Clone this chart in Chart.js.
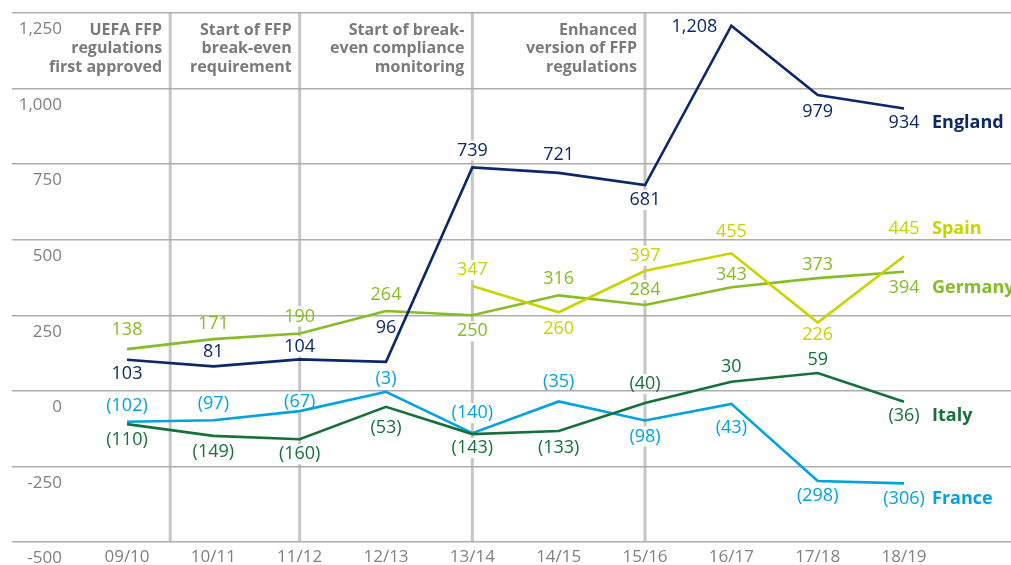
<!DOCTYPE html>
<html>
<head>
<meta charset="utf-8">
<script src="https://cdn.jsdelivr.net/npm/chart.js@4.4.0/dist/chart.umd.min.js"></script>
<style>
  html, body { margin: 0; padding: 0; background: #fff; }
  #wrap { width: 1011px; height: 565px; position: relative; }
</style>
</head>
<body>
<div id="wrap"><canvas id="ffpChart"></canvas></div>
<script>
// Datos del gráfico
var seasons = ["09/10", "10/11", "11/12", "12/13", "13/14", "14/15", "15/16", "16/17", "17/18", "18/19"];
var england = [103, 81, 104, 96, 739, 721, 681, 1208, 979, 934];
var spain = [null, null, null, null, 347, 260, 397, 455, 226, 445];
var germany = [138, 171, 190, 264, 250, 316, 284, 343, 373, 394];
var italy = [-110, -149, -160, -53, -143, -133, -40, 30, 59, -36];
var france = [-102, -97, -67, -3, -140, -35, -98, -43, -298, -306];
var yTicks = [-500, -250, 0, 250, 500, 750, 1000, 1250];

// Hitos de la normativa FFP (posicion en el eje de temporadas)
var milestoneAt = [0.5, 2, 4, 6];
var milestoneText = [
  ["UEFA FFP", "regulations", "first approved"],
  ["Start of FFP", "break-even", "requirement"],
  ["Start of break-", "even compliance", "monitoring"],
  ["Enhanced", "version of FFP", "regulations"]
];

// Desplazamiento vertical de cada etiqueta respecto a su punto
var englandOff = [14, -14, -13, -34, -17, -18, 15, "left", 17, 14];
var spainOff = [null, null, null, null, -16, 17, -15, -21, 12, -27];
var germanyOff = [-19, -15, -17, -16, 16, -16, -15, -12, -13, 16];
var italyOff = [16, 16, 15, 21, 14, 17, -19, -15, -13, 14];
var franceOff = [-16, -16, -9, -13, -20, -20, 16, 24, 15, 16];

var series = [
  { name: "England", values: england, color: "#0c2868", offsets: englandOff },
  { name: "Spain", values: spain, color: "#c8d400", offsets: spainOff },
  { name: "Germany", values: germany, color: "#86bc25", offsets: germanyOff },
  { name: "Italy", values: italy, color: "#16703a", offsets: italyOff },
  { name: "France", values: france, color: "#00a3e0", offsets: franceOff }
];

var FONT = "'Open Sans', sans-serif";
var LABEL_SIZE = 18;

function fmt(v) {
  var s = Math.abs(v).toLocaleString("en-US");
  return v < 0 ? "(" + s + ")" : s;
}

function labelSpots(chart) {
  var out = [];
  series.forEach(function (s, d) {
    var meta = chart.getDatasetMeta(d);
    s.values.forEach(function (v, i) {
      if (v === null) return;
      var p = meta.data[i];
      var off = s.offsets[i];
      var spot = { text: fmt(v), color: s.color, x: p.x, y: p.y + off, align: "center", bold: false };
      if (off === "left") {
        spot.x = p.x - 14;
        spot.y = p.y + 1;
        spot.align = "right";
      }
      out.push(spot);
      if (i === s.values.length - 1) {
        out.push({ text: s.name, color: s.color, x: p.x + 28, y: spot.y, align: "left", bold: true });
      }
    });
  });
  return out;
}

function setFont(ctx, bold, size) {
  ctx.font = (bold ? "bold " : "") + size + "px " + FONT;
}

var ffpPlugin = {
  id: "ffp",
  beforeDraw: function (chart) {
    var ctx = chart.ctx, area = chart.chartArea, xs = chart.scales.x;
    ctx.save();
    // lineas verticales de los hitos
    ctx.strokeStyle = "#c6c6c6";
    ctx.lineWidth = 3;
    milestoneAt.forEach(function (m) {
      var x = xs.getPixelForValue(m);
      ctx.beginPath();
      ctx.moveTo(x, area.top);
      ctx.lineTo(x, area.bottom);
      ctx.stroke();
    });
    // fondos blancos detras de las etiquetas
    ctx.fillStyle = "#fff";
    labelSpots(chart).forEach(function (l) {
      setFont(ctx, l.bold, LABEL_SIZE);
      var w = ctx.measureText(l.text).width + 4;
      var left = l.align === "center" ? l.x - w / 2 : (l.align === "right" ? l.x - w : l.x);
      ctx.fillRect(left, l.y - 10, w, 20);
    });
    ctx.restore();
  },
  afterDatasetsDraw: function (chart) {
    var ctx = chart.ctx, area = chart.chartArea, xs = chart.scales.x, ys = chart.scales.y;
    ctx.save();
    ctx.textBaseline = "middle";
    // etiquetas del eje Y (debajo de cada linea)
    setFont(ctx, false, 17);
    ctx.fillStyle = "#808080";
    ctx.textAlign = "right";
    ys.ticks.forEach(function (t) {
      ctx.fillText(t.value.toLocaleString("en-US"), 62, ys.getPixelForValue(t.value) + 16.5);
    });
    // textos de los hitos
    setFont(ctx, true, 16);
    ctx.fillStyle = "#7a7a7a";
    milestoneAt.forEach(function (m, k) {
      var x = xs.getPixelForValue(m) - 8;
      milestoneText[k].forEach(function (line, j) {
        ctx.fillText(line, x, area.top + 17 + j * 18.5);
      });
    });
    // valores y nombres de paises
    labelSpots(chart).forEach(function (l) {
      setFont(ctx, l.bold, LABEL_SIZE);
      ctx.fillStyle = l.color;
      ctx.textAlign = l.align;
      ctx.fillText(l.text, l.x, l.y);
    });
    ctx.restore();
  }
};

var ctx = document.getElementById("ffpChart").getContext("2d");
var chart = new Chart(ctx, {
  type: "line",
  data: {
    datasets: series.map(function (s) {
      return {
        label: s.name,
        data: s.values.map(function (v, i) { return { x: i, y: v }; }),
        borderColor: s.color,
        backgroundColor: s.color,
        borderWidth: 2.6,
        pointRadius: 0,
        tension: 0,
        fill: false
      };
    })
  },
  options: {
    responsive: true,
    maintainAspectRatio: false,
    animation: false,
    layout: { padding: { left: 12, right: 0, top: 13, bottom: 0 } },
    plugins: { legend: { display: false }, tooltip: { enabled: false } },
    scales: {
      x: {
        type: "linear",
        min: -1.332,
        max: 10.239,
        afterBuildTicks: function (s) {
          s.ticks = seasons.map(function (_, i) { return { value: i }; });
        },
        afterFit: function (s) { s.height = 23; },
        grid: { display: false, drawTicks: false },
        border: { display: false },
        ticks: {
          autoSkip: false,
          maxRotation: 0,
          padding: 5,
          color: "#808080",
          font: { family: FONT, size: 17 },
          callback: function (v) { return seasons[v]; }
        }
      },
      y: {
        min: -500,
        max: 1250,
        afterBuildTicks: function (s) {
          s.ticks = yTicks.map(function (v) { return { value: v }; });
        },
        afterFit: function (s) { s.width = 0; },
        grid: { color: "#adadad", lineWidth: 1.5, drawTicks: false },
        border: { display: false },
        ticks: { display: false }
      }
    }
  },
  plugins: [ffpPlugin]
});
</script>
</body>
</html>
